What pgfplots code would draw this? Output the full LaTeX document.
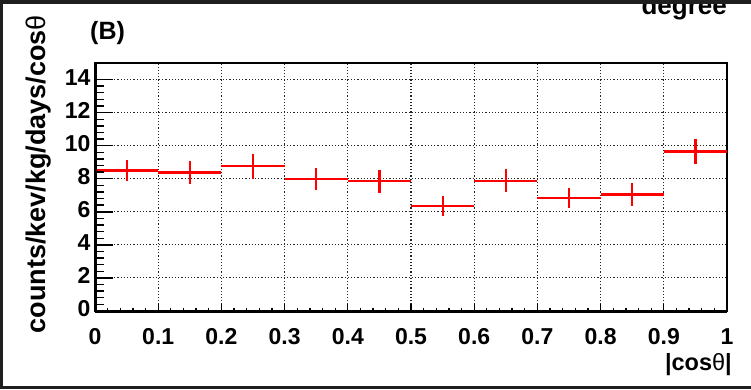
\documentclass[border=0pt]{standalone}
\usepackage{fontspec}
\setmainfont{Liberation Sans}
\usepackage{pgfplots}
\pgfplotsset{compat=1.18}
\pgfplotstableread{
x y ex ey
0.05 8.50 0.05 0.64
0.15 8.38 0.05 0.68
0.25 8.75 0.05 0.75
0.35 7.98 0.05 0.68
0.45 7.84 0.05 0.68
0.55 6.36 0.05 0.62
0.65 7.88 0.05 0.69
0.75 6.83 0.05 0.62
0.85 7.05 0.05 0.68
0.95 9.65 0.05 0.78
}\datatable
\begin{document}
\begin{tikzpicture}[x=1pt,y=1pt]
\useasboundingbox (0,0) rectangle (751,389);
\fill[white] (0,0) rectangle (751,389);
\begin{axis}[
  at={(95pt,78pt)}, anchor=south west, scale only axis,
  width=632pt, height=248pt,
  xmin=0, xmax=1, ymin=0, ymax=15,
  xtick={0,0.1,0.2,0.3,0.4,0.5,0.6,0.7,0.8,0.9,1},
  xticklabels={0,0.1,0.2,0.3,0.4,0.5,0.6,0.7,0.8,0.9,1},
  ytick={0,2,4,6,8,10,12,14},
  minor x tick num=4,
  minor y tick num=0,
  tick align=inside,
  xtick pos=bottom, ytick pos=left,
  major tick length=7pt, minor tick length=3.5pt,
  ytick style={draw=none},
  xtick style={line width=1.3pt, black},
  axis line style={line width=1.8pt, black},
  grid=major,
  major grid style={line width=1.1pt, black!85, dash pattern=on 1.2pt off 2pt},
  ticklabel style={font=\fontsize{23}{26}\selectfont\bfseries},
  xticklabel style={yshift=-14pt},
  yticklabel style={xshift=-1pt, yshift=2pt},
  /pgf/number format/assume math mode=true,
  clip=false,
]
\addplot[draw=none, mark=none,
  error bars/.cd, x dir=both, x explicit, y dir=both, y explicit,
  error mark=none,
  error bar style={draw=red, line width=2.2pt}]
  table[x=x, y=y, x error=ex, y error=ey]{\datatable};
\end{axis}
\begin{axis}[
  at={(95pt,78pt)}, anchor=south west, scale only axis,
  width=632pt, height=248pt,
  xmin=0, xmax=1, ymin=0, ymax=15,
  axis lines=left,
  axis line style={-, line width=3pt, black},
  xtick=\empty,
  ytick={0,2,4,6,8,10,12,14},
  yticklabels={},
  minor y tick num=4,
  tick align=inside,
  major tick length=18pt, minor tick length=9pt,
  ytick style={line width=1.4pt, black},
]
\end{axis}
\node[anchor=west, inner sep=0, font=\fontsize{25}{28}\selectfont\bfseries] at (90,356) {(B)};
\node[anchor=base east, inner sep=0, font=\fontsize{26}{30}\selectfont\bfseries] at (727,374) {degree};
\node[anchor=east, inner sep=0, font=\fontsize{23.5}{27}\selectfont\bfseries] at (732,24) {|cos\textmd{θ}|};
\node[anchor=east, inner sep=0, rotate=90, font=\fontsize{27}{31}\selectfont\bfseries] at (39,374) {counts/kev/kg/days/cos\textmd{θ}};
\fill[black!88] (0,385) rectangle (751,389);
\fill[black!88] (0,0) rectangle (751,3);
\fill[black!88] (0,0) rectangle (3,389);
\end{tikzpicture}
\end{document}
